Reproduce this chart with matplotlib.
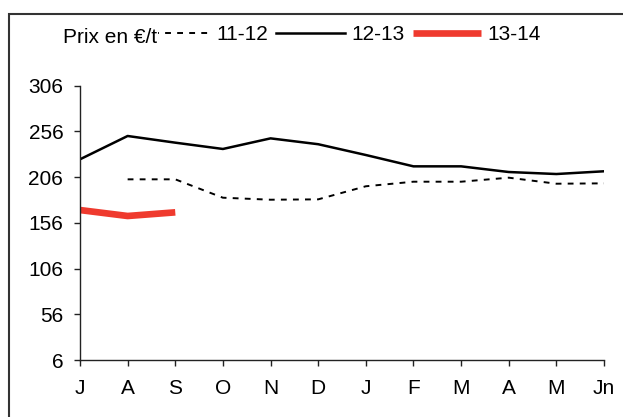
import numpy as np
import matplotlib

matplotlib.use("Agg")
import matplotlib.pyplot as plt
from matplotlib.patches import Rectangle

plt.rcParams["font.family"] = ["Liberation Sans", "DejaVu Sans"]

# ---- donnees : prix mensuels (EUR/t) par campagne ----
mois = ["J", "A", "S", "O", "N", "D", "J", "F", "M", "A", "M", "Jn"]
prix_11_12 = [np.nan, 203.6, 203.6, 183.5, 181.3, 181.7, 196.0, 201.0, 201.0, 205.4, 198.8, 199.2]
prix_12_13 = [225.5, 251.0, 243.7, 236.8, 248.4, 242.0, 230.2, 217.8, 217.8, 211.6, 209.4, 212.4]
prix_13_14 = [170.0, 163.5, 167.5] + [np.nan] * 9
y_ticks = [6, 56, 106, 156, 206, 256, 306]

W, H = 623, 417
FS = 15
ROUGE = "#EF3A2E"

fig = plt.figure(figsize=(W / 100, H / 100), dpi=100)
fig.patch.set_facecolor("white")

# cadre autour du graphique
fig.patches.append(
    Rectangle((9 / W, -0.2), 1.2, 1 - 13.5 / H + 0.2, transform=fig.transFigure,
              fill=False, edgecolor="#333333", linewidth=1.5)
)

ax = fig.add_axes([80 / W, 1 - 360 / H, (604 - 80) / W, (360 - 85.7) / H])
x = np.arange(len(mois))

l1, = ax.plot(x, prix_11_12, color="black", linewidth=1.4, linestyle=(0, (3, 3.2)), label="11-12")
l2, = ax.plot(x, prix_12_13, color="black", linewidth=1.8, label="12-13")
l3, = ax.plot(x, prix_13_14, color=ROUGE, linewidth=4.8, label="13-14", solid_capstyle="butt")

ax.set_xlim(0, len(mois) - 1)
ax.set_ylim(6, 306)
ax.set_yticks(y_ticks)
ax.set_xticks(x)
ax.set_xticklabels(mois)
ax.tick_params(axis="both", labelsize=FS, direction="out", color="#222222", width=1.0)
ax.tick_params(axis="y", length=4.5, pad=7.5)
ax.tick_params(axis="x", length=4.5, pad=9.5)

for side in ["top", "right"]:
    ax.spines[side].set_visible(False)
for side in ["left", "bottom"]:
    ax.spines[side].set_color("#222222")
    ax.spines[side].set_linewidth(1.0)

# legende en ligne, en haut
leg = ax.legend(
    handles=[l1, l2, l3], ncol=3, frameon=False, fontsize=FS,
    loc="center left", bbox_to_anchor=(141 / W, 1 - 34.5 / H), bbox_transform=fig.transFigure,
    borderpad=0, borderaxespad=0, handlelength=3.3, handletextpad=0.3, columnspacing=0.4,
)

fig.text(63 / W, 1 - 43.3 / H, "Prix en €/t", fontsize=FS, va="baseline", ha="left",
         bbox=dict(facecolor="white", edgecolor="none", pad=0.5), zorder=5)

fig.savefig("out.png", dpi=100, facecolor="white")
